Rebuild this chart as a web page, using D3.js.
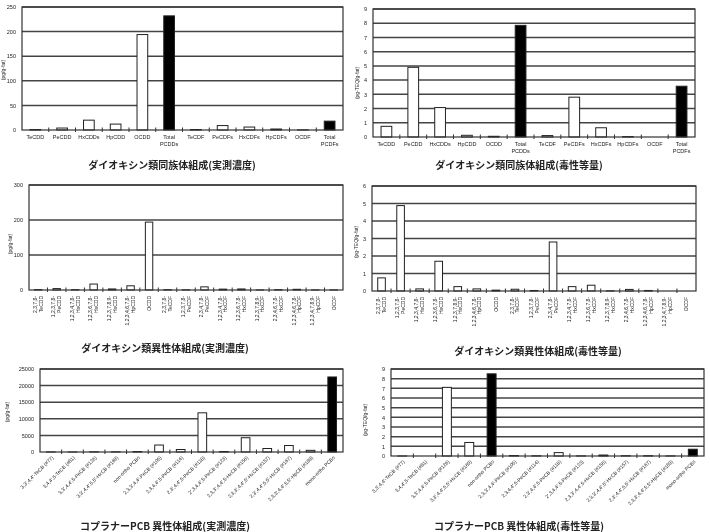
<!DOCTYPE html>
<html>
<head>
<meta charset="utf-8">
<script src="https://cdn.jsdelivr.net/npm/d3@7"></script>
<style>
  body { margin: 0; background: #fff; }
  svg { display: block; will-change: transform; }
  text { font-family: "Liberation Sans", "Noto Sans CJK JP", sans-serif; fill: #222; }
  .title { font-family: "Noto Sans CJK JP", sans-serif; font-weight: bold; font-size: 10px; }
</style>
</head>
<body>
<div id="chart"></div>
<script>
// homologue groups
var homologues = ["TeCDD", "PeCDD", "HxCDDs", "HpCDD", "OCDD", "Total|PCDDs",
                  "TeCDF", "PeCDFs", "HxCDFs", "HpCDFs", "OCDF", "Total|PCDFs"];
var homoConc = [1, 4, 20, 12, 194, 232, 1, 9, 6, 2, 0.3, 18];
var homoTeq = [0.75, 4.9, 2.07, 0.12, 0.05, 7.85, 0.1, 2.8, 0.65, 0.03, 0, 3.57];
var homoTotal = ["Total|PCDDs", "Total|PCDFs"];

// 2,3,7,8-substituted isomers
var isomers = ["2,3,7,8-|TeCDD", "1,2,3,7,8-|PeCDD", "1,2,3,4,7,8-|HxCDD", "1,2,3,6,7,8-|HxCDD",
               "1,2,3,7,8,9-|HxCDD", "1,2,3,4,6,7,8-|HpCDD", "OCDD", "2,3,7,8-|TeCDF",
               "1,2,3,7,8-|PeCDF", "2,3,4,7,8-|PeCDF", "1,2,3,4,7,8-|HxCDF", "1,2,3,6,7,8-|HxCDF",
               "1,2,3,7,8,9-|HxCDF", "2,3,4,6,7,8-|HxCDF", "1,2,3,4,6,7,8-|HpCDF",
               "1,2,3,4,7,8,9-|HpCDF", "OCDF"];
var isoConc = [1, 4, 1, 17, 3, 12, 194, 1, 0.5, 9, 2.5, 3, 0.2, 1, 2, 0.2, 0.3];
var isoTeq = [0.75, 4.88, 0.12, 1.7, 0.25, 0.12, 0.05, 0.1, 0.03, 2.8, 0.25, 0.33, 0.01, 0.09, 0.03, 0, 0];

// coplanar PCBs
var pcbs = ["3,3',4,4'-TeCB (#77)", "3,4,4',5-TeCB (#81)", "3,3',4,4',5-PeCB (#126)",
            "3,3',4,4',5,5'-HxCB (#169)", "non-ortho PCBs", "2,3,3',4,4'-PeCB (#105)",
            "2,3,4,4',5-PeCB (#114)", "2,3',4,4',5-PeCB (#118)", "2',3,4,4',5-PeCB (#123)",
            "2,3,3',4,4',5-HxCB (#156)", "2,3,3',4,4',5'-HxCB (#157)", "2,3',4,4',5,5'-HxCB (#167)",
            "2,3,3',4,4',5,5'-HpCB (#189)", "mono-ortho PCBs"];
var pcbConc = [30, 5, 70, 50, 150, 2100, 750, 11800, 150, 4300, 1050, 1950, 500, 22600];
var pcbTeq = [0.003, 0, 7.1, 1.4, 8.5, 0.05, 0.02, 0.35, 0.01, 0.1, 0.03, 0.03, 0.01, 0.7];
var pcbTotal = ["non-ortho PCBs", "mono-ortho PCBs"];

var width = 710, height = 532;
var svg = d3.select("#chart").append("svg")
  .attr("width", width).attr("height", height);

function drawPanel(cfg) {
  var g = svg.append("g");
  var x = d3.scaleBand().domain(cfg.cats).range([cfg.left, cfg.right]).paddingInner(0.6).paddingOuter(0.3);
  var y = d3.scaleLinear().domain([0, cfg.ymax]).range([cfg.bottom, cfg.top]);
  var step = (cfg.right - cfg.left) / cfg.cats.length;

  // grid
  g.selectAll("line.grid").data(d3.range(cfg.tick, cfg.ymax + 1e-9, cfg.tick))
    .enter().append("line")
    .attr("x1", cfg.left).attr("x2", cfg.right)
    .attr("y1", function(d) { return y(d); }).attr("y2", function(d) { return y(d); })
    .attr("stroke", "#444").attr("stroke-width", 1.5);

  // y axis
  var yAxis = d3.axisLeft(y).tickValues(d3.range(0, cfg.ymax + 1e-9, cfg.tick))
    .tickFormat(d3.format("d")).tickSize(0).tickPadding(6);
  var ya = g.append("g").attr("transform", "translate(" + cfg.left + ",0)").call(yAxis);
  ya.select(".domain").remove();
  ya.selectAll("text").style("font-size", "5.5px").attr("fill", "#222");

  // bars
  g.selectAll("rect.bar").data(cfg.cats).enter().append("rect")
    .attr("x", function(d) { return x(d); })
    .attr("width", x.bandwidth())
    .attr("y", function(d, i) { return y(cfg.values[i]); })
    .attr("height", function(d, i) { return cfg.bottom - y(cfg.values[i]); })
    .attr("fill", function(d) { return cfg.totals.indexOf(d) >= 0 ? "#000" : "#fff"; })
    .attr("stroke", "#222").attr("stroke-width", 1);

  // frame
  g.append("rect").attr("x", cfg.left).attr("y", cfg.top)
    .attr("width", cfg.right - cfg.left).attr("height", cfg.bottom - cfg.top)
    .attr("fill", "none").attr("stroke", "#333").attr("stroke-width", 1.2);

  // category tick marks
  g.selectAll("line.ct").data(d3.range(1, cfg.cats.length)).enter().append("line")
    .attr("x1", function(i) { return cfg.left + i * step; })
    .attr("x2", function(i) { return cfg.left + i * step; })
    .attr("y1", cfg.bottom - 2.5).attr("y2", cfg.bottom + 2)
    .attr("stroke", "#333").attr("stroke-width", 1);

  // x labels
  var lab = g.selectAll("text.xl").data(cfg.cats).enter().append("text")
    .style("font-size", cfg.labelSize + "px");
  if (cfg.rotate === 0) {
    lab.attr("text-anchor", "middle")
      .attr("transform", function(d) { return "translate(" + (x(d) + x.bandwidth() / 2) + "," + (cfg.bottom + 9) + ")"; })
      .each(function(d) {
        var parts = d.split("|"), t = d3.select(this);
        parts.forEach(function(p, k) { t.append("tspan").attr("x", 0).attr("dy", k ? "1.35em" : 0).text(p); });
      });
  } else if (cfg.rotate === -90) {
    lab.attr("text-anchor", "end")
      .attr("transform", function(d) { return "translate(" + (x(d) + x.bandwidth() / 2) + "," + (cfg.bottom + 6) + ") rotate(-90)"; })
      .each(function(d) {
        var parts = d.split("|"), t = d3.select(this);
        var off = parts.length > 1 ? -0.25 : 0.35;
        parts.forEach(function(p, k) { t.append("tspan").attr("x", 0).attr("dy", (k ? 1.15 : off) + "em").text(p); });
      });
  } else {
    lab.attr("text-anchor", "end")
      .attr("transform", function(d) { return "translate(" + (x(d) + x.bandwidth() / 2 + 3) + "," + (cfg.bottom + 6) + ") rotate(-45)"; })
      .text(function(d) { return d; });
  }

  // y label
  g.append("text").attr("text-anchor", "middle").style("font-size", "5px")
    .attr("transform", "translate(" + cfg.ylabX + "," + cfg.ylabY + ") rotate(-90)")
    .text(cfg.ylabel);

  // title
  g.append("text").attr("class", "title").attr("text-anchor", "middle")
    .attr("x", cfg.titleX).attr("y", cfg.titleY).text(cfg.title);
}

drawPanel({ cats: homologues, values: homoConc, totals: homoTotal, ymax: 250, tick: 50,
  left: 22, right: 343, top: 7, bottom: 130, rotate: 0, labelSize: 5.5,
  ylabel: "(pg/g-fat)", ylabX: 5, ylabY: 70,
  title: "ダイオキシン類同族体組成(実測濃度)", titleX: 172, titleY: 169 });

drawPanel({ cats: homologues, values: homoTeq, totals: homoTotal, ymax: 9, tick: 1,
  left: 373, right: 695, top: 9, bottom: 137, rotate: 0, labelSize: 5.5,
  ylabel: "(pg-TEQ/g-fat)", ylabX: 359, ylabY: 83,
  title: "ダイオキシン類同族体組成(毒性等量)", titleX: 519, titleY: 169 });

drawPanel({ cats: isomers, values: isoConc, totals: [], ymax: 300, tick: 100,
  left: 29, right: 343, top: 185, bottom: 290, rotate: -90, labelSize: 5,
  ylabel: "(pg/g-fat)", ylabX: 12, ylabY: 244,
  title: "ダイオキシン類異性体組成(実測濃度)", titleX: 165, titleY: 352 });

drawPanel({ cats: isomers, values: isoTeq, totals: [], ymax: 6, tick: 1,
  left: 372, right: 696, top: 186, bottom: 291, rotate: -90, labelSize: 5,
  ylabel: "(pg-TEQ/g-fat)", ylabX: 358, ylabY: 242,
  title: "ダイオキシン類異性体組成(毒性等量)", titleX: 538, titleY: 355 });

drawPanel({ cats: pcbs, values: pcbConc, totals: pcbTotal, ymax: 25000, tick: 5000,
  left: 40, right: 343, top: 369, bottom: 452, rotate: -45, labelSize: 5,
  ylabel: "(pg/g-fat)", ylabX: 9, ylabY: 412,
  title: "コプラナーPCB 異性体組成(実測濃度)", titleX: 165, titleY: 530 });

drawPanel({ cats: pcbs, values: pcbTeq, totals: pcbTotal, ymax: 9, tick: 1,
  left: 391, right: 704, top: 369, bottom: 456, rotate: -45, labelSize: 5,
  ylabel: "(pg-TEQ/g-fat)", ylabX: 367, ylabY: 420,
  title: "コプラナーPCB 異性体組成(毒性等量)", titleX: 519, titleY: 530 });
</script>
</body>
</html>
